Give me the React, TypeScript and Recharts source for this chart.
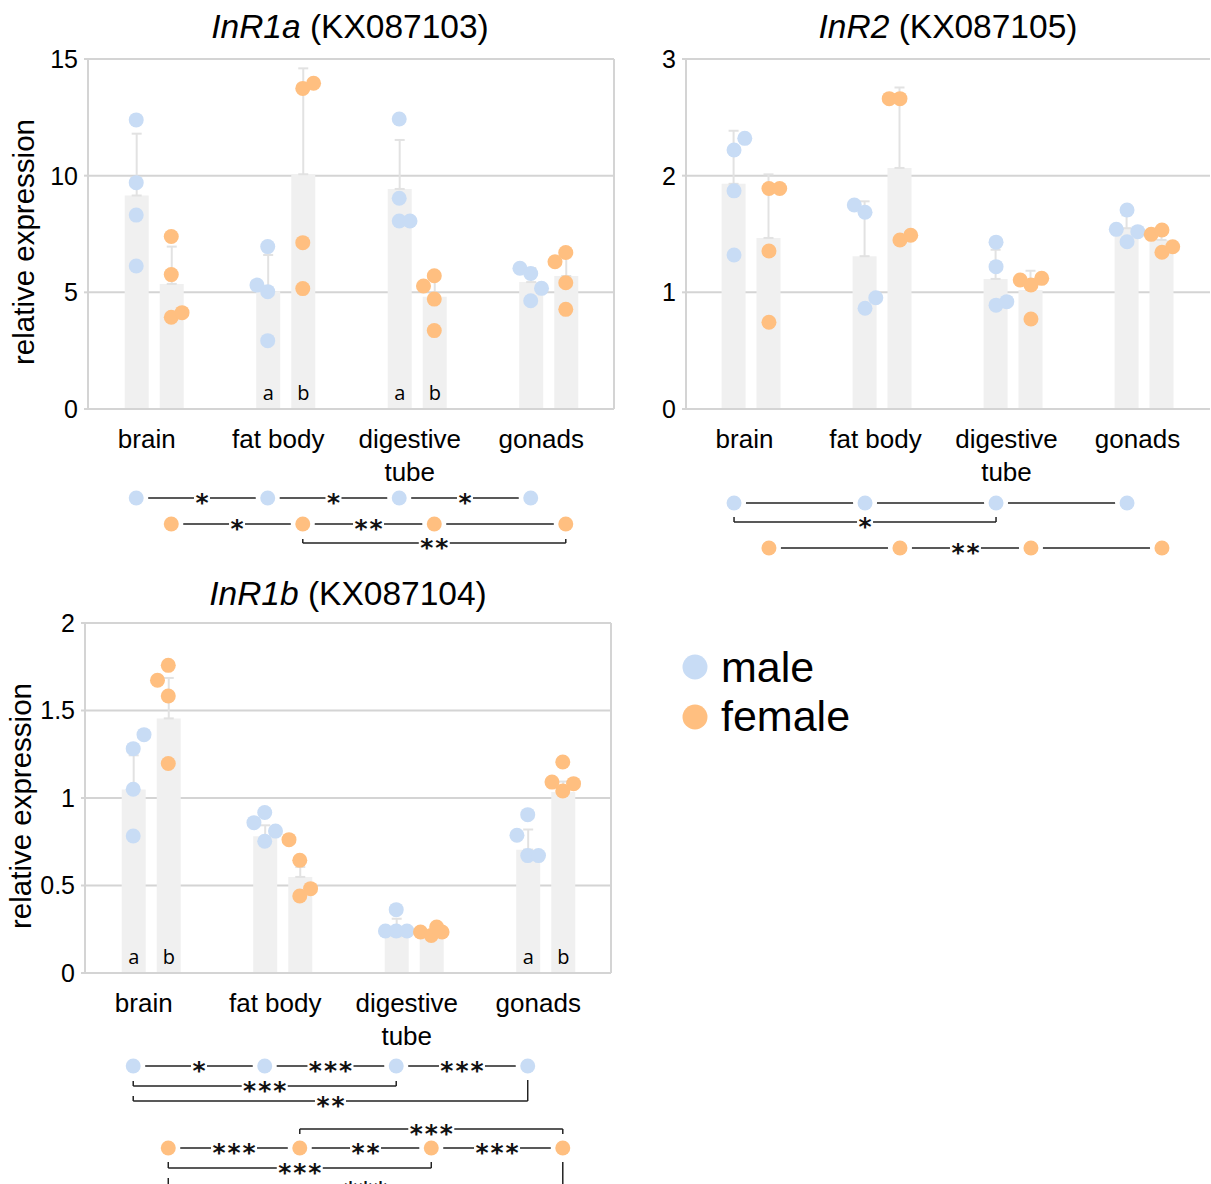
import React from 'react';
import {
  ComposedChart,
  Bar,
  ErrorBar,
  LabelList,
  Scatter,
  XAxis,
  YAxis,
  CartesianGrid,
  ReferenceLine,
} from 'recharts';

const FONT = '"Liberation Sans", Arial, sans-serif';
const GRID = '#d4d4d4';
const BAR = '#f0f0f0';
const ERR = '#e2e2e2';
const MALE = '#c8dcf5';
const FEMALE = '#ffbf80';

const groups = ['brain', 'fat body', 'digestive\ntube', 'gonads'];
const groupTicks = [0.5, 1.5, 2.5, 3.5];
const sexShift = 0.1333;
const jitterStep = 0.082;

// InR1a (KX087103)
const r1aTicks = [0, 5, 10, 15];
const r1aMaleMean = [9.15, 5.05, 9.43, 5.44];
const r1aMaleSd = [2.65, 1.55, 2.1, 0.6];
const r1aFemaleMean = [5.36, 10.06, 4.81, 5.7];
const r1aFemaleSd = [1.6, 4.54, 1.0, 0.8];
const r1aMaleLetters = ['', 'a', 'a', ''];
const r1aFemaleLetters = ['', 'b', 'b', ''];
const r1aMalePts = [[12.39, 9.7, 8.31, 6.13], [6.96, 5.31, 5.03, 2.93], [12.43, 9.03, 8.06, 8.06], [6.03, 5.81, 5.17, 4.64]];
const r1aMaleJit = [[0, 0, 0, 0], [0, -1, 0, 0], [0, 0, 0, 1], [-1, 0, 1, 0]];
const r1aFemalePts = [[7.39, 5.76, 3.93, 4.13], [13.74, 13.96, 7.13, 5.16], [5.27, 5.71, 4.71, 3.36], [6.31, 6.71, 5.41, 4.27]];
const r1aFemaleJit = [[0, 0, 0, 1], [0, 1, 0, 0], [-1, 0, 0, 0], [-1, 0, 0, 0]];

// InR2 (KX087105)
const r2Ticks = [0, 1, 2, 3];
const r2MaleMean = [1.93, 1.31, 1.115, 1.55];
const r2MaleSd = [0.455, 0.47, 0.25, 0.11];
const r2FemaleMean = [1.466, 2.066, 1.02, 1.449];
const r2FemaleSd = [0.545, 0.69, 0.165, 0.09];
const r2MaleLetters = ['', '', '', ''];
const r2FemaleLetters = ['', '', '', ''];
const r2MalePts = [[2.32, 2.22, 1.87, 1.32], [1.749, 1.686, 0.863, 0.954], [1.43, 1.22, 0.89, 0.92], [1.706, 1.54, 1.52, 1.434]];
const r2MaleJit = [[1, 0, 0, 0], [-1, 0, 0, 1], [0, 0, 0, 1], [0, -1, 1, 0]];
const r2FemalePts = [[1.89, 1.89, 1.354, 0.743], [2.66, 2.66, 1.449, 1.489], [1.106, 1.063, 1.12, 0.771], [1.497, 1.534, 1.343, 1.391]];
const r2FemaleJit = [[0, 1, 0, 0], [-1, 0, 0, 1], [-1, 0, 1, 0], [-1, 0, 0, 1]];

// InR1b (KX087104)
const r1bTicks = [0, 0.5, 1, 1.5, 2];
const r1bMaleMean = [1.048, 0.781, 0.21, 0.705];
const r1bMaleSd = [0.196, 0.063, 0.1, 0.115];
const r1bFemaleMean = [1.455, 0.549, 0.21, 1.034];
const r1bFemaleSd = [0.231, 0.057, 0.03, 0.06];
const r1bMaleLetters = ['a', '', '', 'a'];
const r1bFemaleLetters = ['b', '', '', 'b'];
const r1bMalePts = [[1.282, 1.362, 1.05, 0.783], [0.859, 0.917, 0.811, 0.753], [0.362, 0.24, 0.24, 0.24], [0.905, 0.787, 0.671, 0.671]];
const r1bMaleJit = [[0, 1, 0, 0], [-1, 0, 1, 0], [0, -1, 0, 1], [0, -1, 0, 1]];
const r1bFemalePts = [[1.758, 1.673, 1.583, 1.197], [0.762, 0.644, 0.482, 0.44], [0.234, 0.215, 0.263, 0.234], [1.206, 1.091, 1.082, 1.04]];
const r1bFemaleJit = [[0, -1, 0, 0], [-1, 0, 1, 0], [-1, 0, 0.5, 1], [0, -1, 1, 0]];

// significance diagrams: links between neighbouring tissues, brackets for the rest
// levels are measured down from the top of each diagram
type Bracket = { sex: 'male' | 'female'; from: number; to: number; label: string; level: number; endA: number; endB: number };

const r1aMaleLinks = ['*', '*', '*'];
const r1aFemaleLinks = ['*', '**', ''];
const r1aRows = { male: 18, female: 44 };
const r1aBrackets: Bracket[] = [{ sex: 'female', from: 1, to: 3, label: '**', level: 63, endA: 59, endB: 59 }];

const r2MaleLinks = ['', '', ''];
const r2FemaleLinks = ['', '**', ''];
const r2Rows = { male: 23, female: 68 };
const r2Brackets: Bracket[] = [{ sex: 'male', from: 0, to: 2, label: '*', level: 42, endA: 37, endB: 37 }];

const r1bMaleLinks = ['*', '***', '***'];
const r1bFemaleLinks = ['***', '**', '***'];
const r1bRows = { male: 26, female: 108 };
const r1bBrackets: Bracket[] = [
  { sex: 'male', from: 0, to: 2, label: '***', level: 46, endA: 41, endB: 41 },
  { sex: 'male', from: 0, to: 3, label: '**', level: 61, endA: 56, endB: 40 },
  { sex: 'female', from: 1, to: 3, label: '***', level: 89, endA: 94, endB: 94 },
  { sex: 'female', from: 0, to: 2, label: '***', level: 128, endA: 122, endB: 122 },
  { sex: 'female', from: 0, to: 3, label: '***', level: 146, endA: 138, endB: 122 },
];

const pos = (i: number, sex: 'male' | 'female') => i + 0.5 + (sex === 'male' ? -sexShift : sexShift);

function barRows(mMean: number[], mSd: number[], mLet: string[], fMean: number[], fSd: number[], fLet: string[]) {
  const rows: any[] = [];
  groups.forEach((_, i) => {
    rows.push({ x: pos(i, 'male'), mean: mMean[i], err: [0, mSd[i]], letter: mLet[i] });
    rows.push({ x: pos(i, 'female'), mean: fMean[i], err: [0, fSd[i]], letter: fLet[i] });
  });
  return rows;
}

function pointRows(pts: number[][], jit: number[][], sex: 'male' | 'female') {
  const rows: any[] = [];
  pts.forEach((vals, i) =>
    vals.forEach((v, k) => rows.push({ x: pos(i, sex) + jit[i][k] * jitterStep, y: v }))
  );
  return rows;
}

const dot = (color: string) => (p: any) => <circle cx={p.cx} cy={p.cy} r={7.5} fill={color} />;

const groupTick = (p: any) => {
  const idx = groupTicks.indexOf(p.payload.value);
  const lines = (groups[idx] || '').split('\n');
  return (
    <text x={p.x - 7} y={p.y} textAnchor="middle" fontSize={26} fontFamily={FONT} fill="#000">
      {lines.map((l, k) => (
        <tspan key={k} x={p.x - 7} dy={k === 0 ? 39 : 33}>
          {l}
        </tspan>
      ))}
    </text>
  );
};

const yTitle = (bx: number) => (p: any) => {
  const vb = p.viewBox || {};
  const cy = (vb.y || 0) + (vb.height || 0) / 2 + 8;
  return (
    <text x={bx} y={cy} transform={`rotate(-90 ${bx} ${cy})`} textAnchor="middle" fontSize={29.5} fontFamily={FONT} fill="#000">
      relative expression
    </text>
  );
};

function Panel(props: any) {
  const { left, top, width, height, plotLeft, plotRight, plotTop, yMax, yTicks, bars, male, female, titleX, border } = props;
  return (
    <div style={{ position: 'absolute', left, top }}>
      <ComposedChart width={width} height={height} data={bars} margin={{ top: plotTop, right: width - plotRight, bottom: 0, left: 0 }}>
        <CartesianGrid vertical={false} stroke={GRID} strokeWidth={2} />
        <XAxis
          dataKey="x"
          type="number"
          domain={[0, 4]}
          allowDataOverflow
          ticks={groupTicks}
          interval={0}
          tick={groupTick}
          tickLine={false}
          tickSize={0}
          tickMargin={0}
          axisLine={{ stroke: GRID, strokeWidth: 2 }}
          height={80}
        />
        <XAxis xAxisId="pts" dataKey="x" type="number" domain={[0, 4]} allowDataOverflow hide />
        <YAxis
          type="number"
          domain={[0, yMax]}
          ticks={yTicks}
          width={plotLeft}
          tickSize={4}
          tickMargin={6}
          axisLine={{ stroke: GRID, strokeWidth: 2 }}
          tickLine={{ stroke: GRID, strokeWidth: 2 }}
          tick={{ fill: '#000', fontSize: 25, fontFamily: FONT }}
          label={titleX != null ? yTitle(titleX) : undefined}
        />
        {border && <ReferenceLine x={4} stroke={GRID} strokeWidth={2} />}
        <Bar dataKey="mean" fill={BAR} barSize={24} isAnimationActive={false}>
          <ErrorBar dataKey="err" width={5} stroke={ERR} strokeWidth={2} direction="y" />
          <LabelList dataKey="letter" position="insideBottom" offset={9} fill="#000" fontSize={20} fontFamily='"Open Sans", sans-serif' />
        </Bar>
        <Scatter xAxisId="pts" data={male} dataKey="y" fill={MALE} shape={dot(MALE)} isAnimationActive={false} />
        <Scatter xAxisId="pts" data={female} dataKey="y" fill={FEMALE} shape={dot(FEMALE)} isAnimationActive={false} />
      </ComposedChart>
    </div>
  );
}

const sigDot = (color: string) => (p: any) => (
  <g>
    <circle cx={p.cx} cy={p.cy} r={12} fill="#fff" />
    <circle cx={p.cx} cy={p.cy} r={7.5} fill={color} />
  </g>
);

const sigLabel = (p: any) => {
  const txt: string = p.payload.label;
  const w = txt.length * 15 + 1;
  return (
    <g>
      <rect x={p.cx - w / 2} y={p.cy - 4} width={w} height={8} fill="#fff" />
      <text x={p.cx + 1} y={p.cy + 13} textAnchor="middle" fontSize={25} fontWeight="bold" letterSpacing={2} fontFamily='"DejaVu Sans", sans-serif' fill="#111">
        {txt}
      </text>
    </g>
  );
};

function SigChart(props: any) {
  const { left, top, width, height, plotLeft, plotRight, rows, maleLinks, femaleLinks, brackets } = props;
  const dotsM = groups.map((_, i) => ({ x: pos(i, 'male'), y: rows.male }));
  const dotsF = groups.map((_, i) => ({ x: pos(i, 'female'), y: rows.female }));
  const segs: any[] = [];
  const labels: any[] = [];
  (['male', 'female'] as const).forEach((sex) => {
    const links: string[] = sex === 'male' ? maleLinks : femaleLinks;
    links.forEach((lab, i) => {
      const a = pos(i, sex);
      const b = pos(i + 1, sex);
      segs.push([{ x: a, y: rows[sex] }, { x: b, y: rows[sex] }]);
      if (lab) labels.push({ x: (a + b) / 2, y: rows[sex], label: lab });
    });
  });
  (brackets as Bracket[]).forEach((br) => {
    const a = pos(br.from, br.sex);
    const b = pos(br.to, br.sex);
    segs.push([{ x: a, y: br.level }, { x: b, y: br.level }]);
    segs.push([{ x: a, y: br.level }, { x: a, y: br.endA }]);
    segs.push([{ x: b, y: br.level }, { x: b, y: br.endB }]);
    labels.push({ x: (a + b) / 2, y: br.level, label: br.label });
  });
  return (
    <div style={{ position: 'absolute', left, top }}>
      <ComposedChart width={width} height={height} margin={{ top: 0, right: width - plotRight, bottom: 0, left: plotLeft }}>
        <XAxis dataKey="x" type="number" domain={[0, 4]} allowDataOverflow hide />
        <YAxis type="number" domain={[0, height]} allowDataOverflow reversed hide />
        {segs.map((s, k) => (
          <ReferenceLine key={k} segment={s} stroke="#222" strokeWidth={1.5} ifOverflow="visible" />
        ))}
        <Scatter data={dotsM} dataKey="y" shape={sigDot(MALE)} isAnimationActive={false} />
        <Scatter data={dotsF} dataKey="y" shape={sigDot(FEMALE)} isAnimationActive={false} />
        <Scatter data={labels} dataKey="y" shape={sigLabel} isAnimationActive={false} />
      </ComposedChart>
    </div>
  );
}

export default function App() {
  return (
    <div style={{ position: 'absolute', left: 0, top: 0, width: 1211, height: 1184, overflow: 'hidden', background: '#fff' }}>
      <Panel
        left={0} top={0} width={620} height={489} plotLeft={88} plotRight={614} plotTop={59}
        yMax={15} yTicks={r1aTicks} titleX={34} border
        bars={barRows(r1aMaleMean, r1aMaleSd, r1aMaleLetters, r1aFemaleMean, r1aFemaleSd, r1aFemaleLetters)}
        male={pointRows(r1aMalePts, r1aMaleJit, 'male')}
        female={pointRows(r1aFemalePts, r1aFemaleJit, 'female')}
      />
      <Panel
        left={600} top={0} width={611} height={489} plotLeft={86} plotRight={610} plotTop={59}
        yMax={3} yTicks={r2Ticks} titleX={null} border={false}
        bars={barRows(r2MaleMean, r2MaleSd, r2MaleLetters, r2FemaleMean, r2FemaleSd, r2FemaleLetters)}
        male={pointRows(r2MalePts, r2MaleJit, 'male')}
        female={pointRows(r2FemalePts, r2FemaleJit, 'female')}
      />
      <Panel
        left={0} top={560} width={620} height={493} plotLeft={85} plotRight={611} plotTop={63}
        yMax={2} yTicks={r1bTicks} titleX={31} border
        bars={barRows(r1bMaleMean, r1bMaleSd, r1bMaleLetters, r1bFemaleMean, r1bFemaleSd, r1bFemaleLetters)}
        male={pointRows(r1bMalePts, r1bMaleJit, 'male')}
        female={pointRows(r1bFemalePts, r1bFemaleJit, 'female')}
      />
      <SigChart left={0} top={480} width={620} height={95} plotLeft={88} plotRight={614}
        rows={r1aRows} maleLinks={r1aMaleLinks} femaleLinks={r1aFemaleLinks} brackets={r1aBrackets} />
      <SigChart left={600} top={480} width={611} height={95} plotLeft={86} plotRight={610}
        rows={r2Rows} maleLinks={r2MaleLinks} femaleLinks={r2FemaleLinks} brackets={r2Brackets} />
      <SigChart left={0} top={1040} width={620} height={170} plotLeft={85} plotRight={611}
        rows={r1bRows} maleLinks={r1bMaleLinks} femaleLinks={r1bFemaleLinks} brackets={r1bBrackets} />
      <svg width={1211} height={1184} style={{ position: 'absolute', left: 0, top: 0, pointerEvents: 'none' }}>
        <g fontFamily={FONT} fontSize={33.5} fill="#000" textAnchor="middle">
          <text x={350} y={38}><tspan fontStyle="italic">InR1a</tspan>{' (KX087103)'}</text>
          <text x={948} y={38}><tspan fontStyle="italic">InR2</tspan>{' (KX087105)'}</text>
          <text x={348} y={605}><tspan fontStyle="italic">InR1b</tspan>{' (KX087104)'}</text>
        </g>
        <circle cx={695} cy={667} r={12.5} fill={MALE} />
        <circle cx={695} cy={717} r={12.5} fill={FEMALE} />
        <g fontFamily={FONT} fontSize={43} fill="#000">
          <text x={721} y={682}>male</text>
          <text x={721} y={731}>female</text>
        </g>
      </svg>
    </div>
  );
}
